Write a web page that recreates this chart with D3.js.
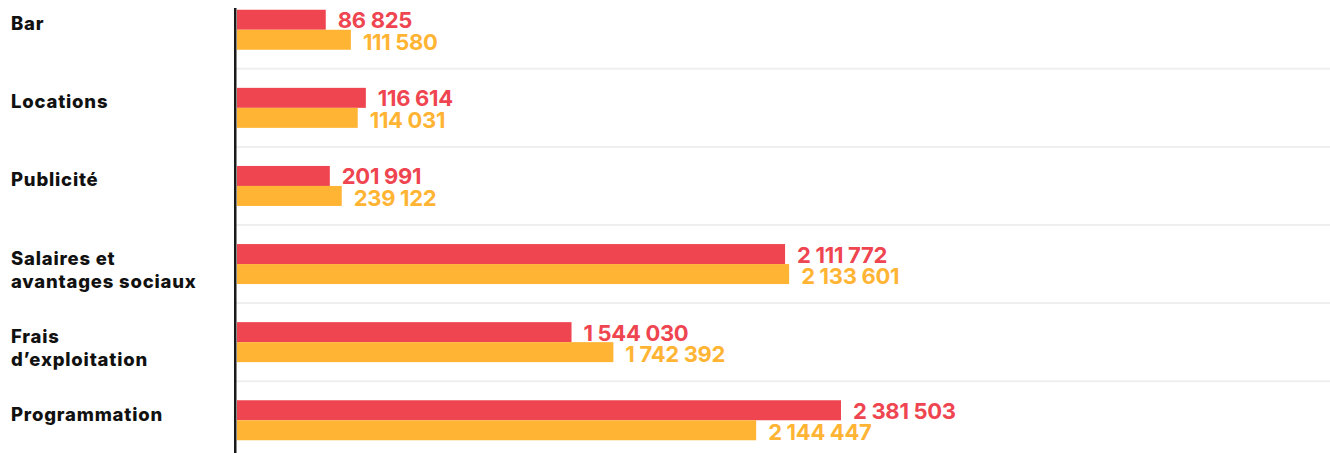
<!DOCTYPE html>
<html>
<head>
<meta charset="utf-8">
<script src="https://cdn.jsdelivr.net/npm/d3@7"></script>
<style>
  html, body { margin: 0; padding: 0; background: #ffffff; }
  svg { display: block; }
</style>
</head>
<body>
<svg id="chart" width="1330" height="453"></svg>
<script>
// ---- data ----
const categories = ["Bar", "Locations", "Publicité", "Salaires et\navantages sociaux", "Frais\nd’exploitation", "Programmation"];
// values printed next to the bars
const labelRed    = [86825, 116614, 201991, 2111772, 1544030, 2381503];
const labelYellow = [111580, 114031, 239122, 2133601, 1742392, 2144447];
// bar lengths as drawn in the reference (same units)
const barRed    = [350000, 508000, 366000, 2161000, 1319000, 2381503];
const barYellow = [449000, 476000, 413000, 2177000, 1484000, 2047000];

const RED = "#EF4550", YELLOW = "#FFB434";

const svg = d3.select("#chart");
const W = 1330, H = 453;

const fr = d3.formatLocale({decimal: ",", thousands: "\u00a0", grouping: [3], currency: ["", " €"]});
const fmt = fr.format(",d");

const x = d3.scaleLinear().domain([0, 2381503]).range([237, 841]);
const y = d3.scaleBand().domain(categories).range([9.75, 9.75 + 78.1 * categories.length]).paddingInner(0).paddingOuter(0);
const barH = 20;

// separators
const seps = categories.slice(0, -1);
svg.append("g").selectAll("line").data(seps).join("line")
  .attr("x1", 236).attr("x2", W)
  .attr("y1", d => y(d) + 2 * barH + (y.step() - 2 * barH) / 2)
  .attr("y2", d => y(d) + 2 * barH + (y.step() - 2 * barH) / 2)
  .attr("stroke", "#efefef").attr("stroke-width", 2);

const rows = categories.map((c, i) => ({c, i}));

// bars
svg.append("g").selectAll("rect").data(rows).join("rect")
  .attr("x", x(0)).attr("y", d => y(d.c))
  .attr("width", d => x(barRed[d.i]) - x(0)).attr("height", barH)
  .attr("fill", RED);
svg.append("g").selectAll("rect").data(rows).join("rect")
  .attr("x", x(0)).attr("y", d => y(d.c) + barH)
  .attr("width", d => x(barYellow[d.i]) - x(0)).attr("height", barH)
  .attr("fill", YELLOW);

// value labels
const valFont = "Inter, 'DejaVu Sans', sans-serif";
svg.append("g").selectAll("text").data(rows).join("text")
  .attr("x", d => x(barRed[d.i]) + 12).attr("y", d => y(d.c) + 18.5)
  .attr("fill", RED).attr("font-family", valFont).attr("font-weight", 700)
  .attr("font-size", 22).attr("letter-spacing", -0.3)
  .text(d => fmt(labelRed[d.i]));
svg.append("g").selectAll("text").data(rows).join("text")
  .attr("x", d => x(barYellow[d.i]) + 12).attr("y", d => y(d.c) + 40)
  .attr("fill", YELLOW).attr("font-family", valFont).attr("font-weight", 700)
  .attr("font-size", 22).attr("letter-spacing", -0.3)
  .text(d => fmt(labelYellow[d.i]));

// category labels
const lab = svg.append("g").selectAll("text").data(rows).join("text")
  .attr("x", 11).attr("y", d => y(d.c) + 20.5)
  .attr("fill", "#111111").attr("font-family", "Inter, 'DejaVu Sans', sans-serif")
  .attr("font-weight", 800).attr("font-size", 18.5).attr("letter-spacing", 0.8);
lab.selectAll("tspan").data(d => d.c.split("\n")).join("tspan")
  .attr("x", 11).attr("dy", (d, i) => i === 0 ? 0 : 23.5)
  .text(d => d);

// axis line
svg.append("line").attr("x1", 235.25).attr("x2", 235.25).attr("y1", 8).attr("y2", H)
  .attr("stroke", "#1a1a1a").attr("stroke-width", 2.5);
</script>
</body>
</html>
